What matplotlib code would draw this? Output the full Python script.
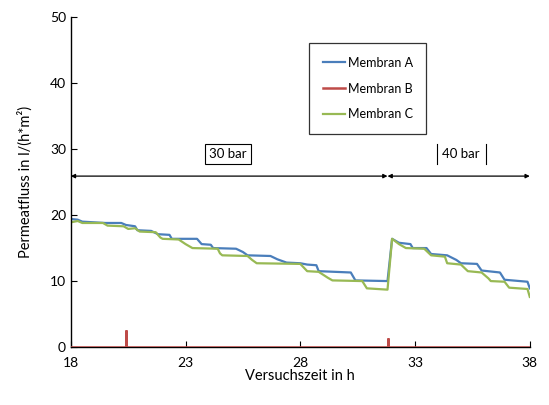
import numpy as np
import matplotlib.pyplot as plt

# Versuchszeit (h) und Permeatfluss (l/(h*m2))
t_a = [18.0, 18.3, 18.5, 19.0, 19.5, 20.2, 20.4, 20.8, 20.9, 21.5, 21.8, 22.3, 22.4,
       23.5, 23.7, 24.1, 24.2, 25.2, 25.5, 25.7, 26.7, 27.0, 27.4, 28.0, 28.3, 28.7,
       28.8, 30.2, 30.4, 31.8, 32.0, 32.3, 32.8, 32.9, 33.5, 33.7, 34.4, 34.8, 35.0,
       35.7, 35.9, 36.7, 36.9, 37.9, 38.0]
flux_a = [19.4, 19.3, 19.0, 18.9, 18.8, 18.8, 18.5, 18.3, 17.7, 17.6, 17.1, 17.0, 16.4,
          16.4, 15.6, 15.5, 15.0, 14.9, 14.4, 13.9, 13.8, 13.3, 12.8, 12.7, 12.5, 12.4,
          11.5, 11.3, 10.1, 10.0, 16.4, 15.8, 15.6, 15.0, 15.0, 14.1, 13.9, 13.2, 12.7,
          12.6, 11.6, 11.3, 10.2, 9.9, 8.9]

t_b = [18.0, 20.4, 20.4, 20.4, 31.8, 31.8, 31.8, 38.0]
flux_b = [0.0, 0.0, 2.6, 0.0, 0.0, 1.4, 0.0, 0.0]

t_c = [18.0, 18.3, 18.5, 19.4, 19.6, 20.3, 20.5, 20.8, 21.0, 21.7, 21.9, 22.0, 22.7,
       23.0, 23.3, 24.4, 24.5, 24.6, 25.7, 25.9, 26.1, 28.0, 28.3, 28.8, 29.2, 29.4,
       30.7, 30.9, 31.8, 32.0, 32.3, 32.6, 33.4, 33.7, 34.3, 34.4, 35.0, 35.3, 35.9,
       36.2, 36.3, 36.9, 37.1, 37.9, 38.0]
flux_c = [18.9, 19.1, 18.8, 18.8, 18.4, 18.3, 17.9, 18.0, 17.5, 17.4, 16.6, 16.4, 16.3,
          15.6, 15.0, 14.9, 14.2, 13.9, 13.8, 13.2, 12.7, 12.6, 11.5, 11.4, 10.5, 10.1,
          10.0, 8.9, 8.7, 16.4, 15.6, 15.0, 14.9, 13.9, 13.7, 12.7, 12.5, 11.5, 11.3,
          10.4, 10.0, 9.9, 9.0, 8.8, 7.6]

druck_grenzen = [18.0, 31.8, 38.0]
druck_labels = ["30 bar", "40 bar"]

plt.rcParams['font.family'] = ['Lato', 'DejaVu Sans']

fig = plt.figure(figsize=(5.49, 4.05), dpi=100)
ax = fig.add_axes([0.129, 0.143, 0.836, 0.815])

ax.plot(t_a, flux_a, color='#4A7EBB', lw=1.6, label='Membran A')
ax.plot(t_b, flux_b, color='#BE4B48', lw=1.8, label='Membran B', zorder=3,
        solid_joinstyle='miter')
ax.plot(t_c, flux_c, color='#98B954', lw=1.6, label='Membran C')

ax.set_xlim(18, 38)
ax.set_ylim(0, 50)
ax.set_xticks([18, 23, 28, 33, 38])
ax.set_yticks(range(0, 51, 10))
ax.tick_params(direction='in', length=4, labelsize=10, color='black')
ax.tick_params(axis='x', pad=7)
ax.spines['top'].set_visible(False)
ax.spines['right'].set_visible(False)
ax.spines['left'].set_linewidth(1.0)
ax.spines['bottom'].set_linewidth(1.0)

ax.set_xlabel('Versuchszeit in h', fontsize=10.5, labelpad=0)
ax.set_ylabel('Permeatfluss in l/(h*m²)', fontsize=10.5, labelpad=12)

# Druckstufen
y_arrow = 25.9
for x0, x1 in zip(druck_grenzen[:-1], druck_grenzen[1:]):
    ax.annotate('', xy=(x0, y_arrow), xytext=(x1, y_arrow),
                arrowprops=dict(arrowstyle='<|-|>', color='black', lw=0.9,
                                mutation_scale=6, shrinkA=0, shrinkB=0))
ax.text(24.85, 29.2, druck_labels[0], ha='center', va='center', fontsize=9.5,
        bbox=dict(boxstyle='square,pad=0.3', fc='white', ec='black', lw=0.8))
ax.text(35.0, 29.2, druck_labels[1], ha='center', va='center', fontsize=9.5)
ax.plot([33.94, 33.94], [27.7, 30.7], color='black', lw=0.8)
ax.plot([36.08, 36.08], [27.7, 30.7], color='black', lw=0.8)

leg = ax.legend(loc='upper left', bbox_to_anchor=(0.505, 0.94), fontsize=9,
                frameon=True, fancybox=False, edgecolor='black', handlelength=1.8,
                handletextpad=0.2, labelspacing=1.1, borderpad=1.1)
leg.get_frame().set_linewidth(0.9)

fig.savefig('out.png', dpi=100)
